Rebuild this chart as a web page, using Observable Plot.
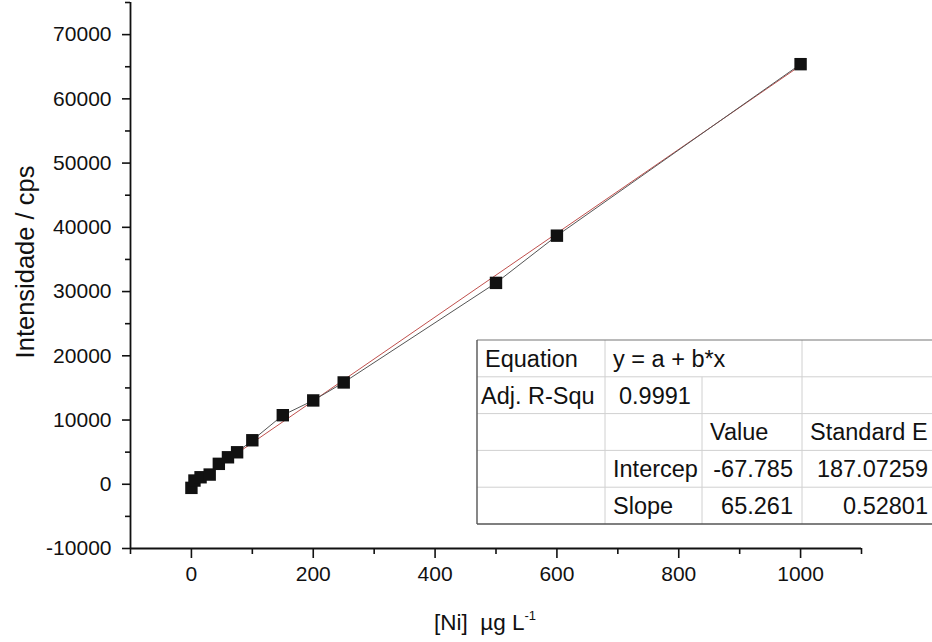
<!DOCTYPE html>
<html>
<head>
<meta charset="utf-8">
<script src="https://cdn.jsdelivr.net/npm/d3@7"></script>
<script src="https://cdn.jsdelivr.net/npm/@observablehq/plot@0.6"></script>
<style>
  html, body { margin: 0; padding: 0; background: white; }
  #chart svg { display: block; }
</style>
</head>
<body>
<div id="chart"></div>
<script>
// ---- data ----
const concentration = [0, 5, 15, 30, 45, 60, 75, 100, 150, 200, 250, 500, 600, 1000];
const intensity = [-560, 580, 1090, 1510, 3180, 4200, 4980, 6850, 10750, 13050, 15850, 31350, 38700, 65400];

const fitIntercept = -67.785;
const fitSlope = 65.261;

const xMajorTicks = [0, 200, 400, 600, 800, 1000];
const xMinorTicks = [-100, 100, 300, 500, 700, 900, 1100];
const yMajorTicks = [-10000, 0, 10000, 20000, 30000, 40000, 50000, 60000, 70000];
const yMinorTicks = [-5000, 5000, 15000, 25000, 35000, 45000, 55000, 65000, 75000];

const xLabel = "[Ni]  µg L";
const xLabelSup = "-1";
const yLabel = "Intensidade / cps";

const tableRows = [
  ["Equation", "y = a + b*x", "", ""],
  ["Adj. R-Squ", "0.9991", "", ""],
  ["", "", "Value", "Standard E"],
  ["", "Intercep", "-67.785", "187.07259"],
  ["", "Slope", "65.261", "0.52801"]
];

// ---- build ----
const data = concentration.map((c, i) => ({x: c, y: intensity[i]}));
const fitLine = [0, 1000].map(x => ({x, y: fitIntercept + fitSlope * x}));

const font = "'Liberation Sans', Arial, Helvetica, sans-serif";

const plot = Plot.plot({
  width: 932,
  height: 642,
  marginLeft: 130,
  marginRight: 71,
  marginTop: 2,
  marginBottom: 94,
  x: {domain: [-100, 1100]},
  y: {domain: [-10000, 75000]},
  style: {fontFamily: font, fontSize: "21px", color: "#111", background: "white", overflow: "visible"},
  marks: [
    Plot.axisX({ticks: xMajorTicks, tickSize: 10, tickPadding: 8, tickFormat: d => String(d), label: null, strokeWidth: 1.6}),
    Plot.axisX({ticks: xMinorTicks, tickSize: 6, tickFormat: () => "", label: null, strokeWidth: 1.6}),
    Plot.axisY({ticks: yMajorTicks, tickSize: 8, tickPadding: 11, tickFormat: d => String(d), label: null, strokeWidth: 1.6}),
    Plot.axisY({ticks: yMinorTicks, tickSize: 5, tickFormat: () => "", label: null, strokeWidth: 1.6}),
    Plot.ruleX([-100], {stroke: "#111", strokeWidth: 1.8}),
    Plot.ruleY([-10000], {stroke: "#111", strokeWidth: 1.8}),
    Plot.line(fitLine, {x: "x", y: "y", stroke: "#c0504d", strokeWidth: 1}),
    Plot.line(data, {x: "x", y: "y", stroke: "#555", strokeWidth: 1}),
    Plot.dot(data, {x: "x", y: "y", symbol: "square", r: 7, fill: "#111", stroke: "none"})
  ]
});

const svg = d3.select(plot);

// axis titles
const xt = svg.append("text")
  .attr("x", 485).attr("y", 630)
  .attr("text-anchor", "middle")
  .attr("font-family", font).attr("font-size", 22.5).attr("fill", "#111")
  .style("white-space", "pre");
xt.append("tspan").text(xLabel);
xt.append("tspan").attr("dy", -10).attr("font-size", 13).text(xLabelSup);

svg.append("text")
  .attr("transform", "translate(34,262) rotate(-90)")
  .attr("text-anchor", "middle")
  .attr("font-family", font).attr("font-size", 25.5).attr("fill", "#111")
  .text(yLabel);

// fit results table
const tx0 = 477, ty0 = 340, rowH = 36.8;
const colX = [477, 605, 702, 802, 937];
const g = svg.append("g").attr("font-family", font).attr("font-size", 23.5).attr("fill", "#111");
g.append("rect").attr("x", tx0).attr("y", ty0).attr("width", 470).attr("height", rowH * tableRows.length)
  .attr("fill", "white").attr("stroke", "none");
// horizontal inner lines
for (let r = 1; r < tableRows.length; r++) {
  g.append("line").attr("x1", tx0).attr("x2", 932).attr("y1", ty0 + r * rowH).attr("y2", ty0 + r * rowH)
    .attr("stroke", "#d0d0d0").attr("stroke-width", 1);
}
// vertical inner lines
for (let r = 0; r < tableRows.length; r++) {
  [1, 2, 3].forEach(c => {
    if (r === 0 && c === 2) return;
    g.append("line").attr("x1", colX[c]).attr("x2", colX[c]).attr("y1", ty0 + r * rowH).attr("y2", ty0 + (r + 1) * rowH)
      .attr("stroke", "#d0d0d0").attr("stroke-width", 1);
  });
}
// outer border (left, top, bottom)
g.append("line").attr("x1", tx0).attr("x2", 932).attr("y1", ty0).attr("y2", ty0).attr("stroke", "#777").attr("stroke-width", 1.2);
g.append("line").attr("x1", tx0).attr("x2", 932).attr("y1", ty0 + rowH * tableRows.length).attr("y2", ty0 + rowH * tableRows.length).attr("stroke", "#555").attr("stroke-width", 1.4);
g.append("line").attr("x1", tx0).attr("x2", tx0).attr("y1", ty0).attr("y2", ty0 + rowH * tableRows.length).attr("stroke", "#555").attr("stroke-width", 1.4);

// cell texts: alignments per cell
const cellPos = (r, c) => {
  const text = tableRows[r][c];
  const isNum = /^-?[0-9.]+$/.test(text) && r >= 3;
  if (isNum) return {x: colX[c + 1] - 9, anchor: "end"};
  if (r === 1 && c === 0) return {x: colX[c] + 4, anchor: "start"};
  if (r === 1 && c === 1) return {x: colX[c] + 14, anchor: "start"};
  return {x: colX[c] + 8, anchor: "start"};
};
tableRows.forEach((row, r) => {
  row.forEach((text, c) => {
    if (!text) return;
    const p = cellPos(r, c);
    g.append("text").attr("x", p.x).attr("y", ty0 + r * rowH + rowH / 2)
      .attr("dy", "0.36em").attr("text-anchor", p.anchor).text(text);
  });
});

document.getElementById("chart").appendChild(plot);
</script>
</body>
</html>
